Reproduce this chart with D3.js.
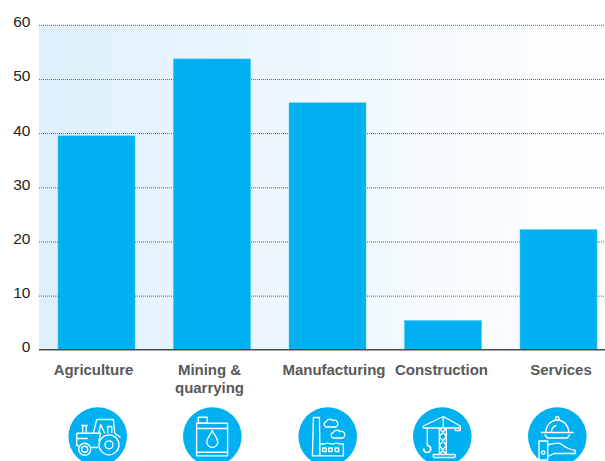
<!DOCTYPE html>
<html>
<head>
<meta charset="utf-8">
<script src="https://cdn.jsdelivr.net/npm/d3@7"></script>
<style>
  html, body { margin: 0; padding: 0; background: #fff; }
  svg { display: block; }
</style>
</head>
<body>
<div id="chart"></div>
<script>
const categories = ["Agriculture", "Mining & quarrying", "Manufacturing", "Construction", "Services"];
const categoryLines = [["Agriculture"], ["Mining &", "quarrying"], ["Manufacturing"], ["Construction"], ["Services"]];
const labelShift = [-3, -2.5, 6.5, -1.5, 2.5];
const values = [39.5, 53.7, 45.6, 5.4, 22.2];
const yTicks = [0, 10, 20, 30, 40, 50, 60];
const iconCentres = [97.7, 212.3, 327.7, 442.3, 557.3];

const width = 605, height = 461;
const blue = "#00b0f0";
const svg = d3.select("#chart").append("svg").attr("width", width).attr("height", height);

const x = d3.scaleBand().domain(categories).range([38.75, 616.25]).paddingInner(1 / 3).paddingOuter(1 / 6);
const y = d3.scaleLinear().domain([0, 60]).range([349.8, 24.8]);

// Plot background fades from pale blue to white
const grad = svg.append("defs").append("linearGradient").attr("id", "plotFade");
grad.append("stop").attr("offset", "0").attr("stop-color", "#def0fc");
grad.append("stop").attr("offset", "1").attr("stop-color", "#ffffff");
svg.append("rect").attr("x", 39).attr("y", y(60)).attr("width", width - 39).attr("height", y(0) - y(60)).attr("fill", "url(#plotFade)");

// Dotted gridlines and tick labels
const yAxis = d3.axisLeft(y).tickValues(yTicks).tickSize(0).tickPadding(9);
const axisG = svg.append("g").attr("transform", "translate(39,0)").call(yAxis);
axisG.select(".domain").remove();
axisG.selectAll("text")
  .attr("dy", "2px")
  .style("font", "15.5px 'Liberation Sans', sans-serif")
  .style("letter-spacing", "-0.3px")
  .attr("fill", "#231f20");
axisG.selectAll(".tick").filter((d) => d !== 0).append("line")
  .attr("x1", 0).attr("x2", width - 39)
  .attr("stroke", "#5f6062").attr("stroke-width", 1)
  .attr("stroke-dasharray", "1 1");

// Bars
svg.append("g").selectAll("rect").data(values).join("rect")
  .attr("x", (d, i) => x(categories[i]))
  .attr("y", (d) => y(d))
  .attr("width", x.bandwidth())
  .attr("height", (d) => y(0) - y(d))
  .attr("fill", blue)
  .attr("stroke", "#45c6f5")
  .attr("stroke-width", 0.5);

// Baseline
svg.append("line").attr("x1", 39).attr("x2", width).attr("y1", y(0)).attr("y2", y(0))
  .attr("stroke", "#4a4b4d").attr("stroke-width", 1.5);

// Category labels
const labels = svg.append("g").selectAll("text").data(categoryLines).join("text")
  .attr("text-anchor", "middle")
  .attr("fill", "#58595b")
  .style("font", "bold 15px 'Liberation Sans', sans-serif")
  .style("letter-spacing", "-0.03px");
labels.each(function (lines, i) {
  const cx = x(categories[i]) + x.bandwidth() / 2 + labelShift[i];
  d3.select(this).selectAll("tspan").data(lines).join("tspan")
    .attr("x", cx)
    .attr("y", (d, k) => 375 + k * 17.5)
    .text((d) => d);
});

// Sector icons: white line drawings on blue discs, drawn around each disc centre
const iconShapes = [
  // tractor
  g => {
    g.append("circle").attr("cx", 11.3).attr("cy", 8.3).attr("r", 10);
    g.append("circle").attr("cx", 11.3).attr("cy", 8.3).attr("r", 4);
    g.append("circle").attr("cx", -13).attr("cy", 12.7).attr("r", 6);
    g.append("circle").attr("cx", -13).attr("cy", 12.7).attr("r", 3);
    g.append("path").attr("d", "M-4.3,-3.3L-1,-17H15.7L17,-3.3 M-21,-3.3H3 M-21,-3.3V9H-19 M-7,11H0.5 M-15,-3.3V-11H-11.5V-3.3 M-16.5,-11H-10 M1,-3.3L3,-12L7,-3.3 M10,-3.3V-10H14V-3.3 M17,-3.3L23,1 M-21,2H-10 M3,-3.3L1,5");
  },
  // oil canister
  g => {
    g.append("rect").attr("x", -15.7).attr("y", -13.3).attr("width", 31).attr("height", 32.6);
    g.append("rect").attr("x", -14).attr("y", -19.3).attr("width", 9).attr("height", 6);
    g.append("path").attr("d", "M-15.7,-8H15.3 M-15.7,15.7H15.3 M0,-6C-2,-1 -5.5,1.5 -5.5,5.5A5.5,5.5 0 0 0 5.5,5.5C5.5,1.5 2,-1 0,-6Z");
  },
  // factory with chimney and clouds
  g => {
    g.append("path").attr("d", "M-15.3,19.3L-14.3,-19H-8.3L-7.7,19.3Z");
    g.append("path").attr("d", "M-7.7,19.3H15.7V7C13,9 10,5.5 7,7C4,9 1,5.5 -2,7C-4,8 -6,7.5 -7.7,7");
    [-5, 1, 7.5].forEach(wx => g.append("rect").attr("x", wx).attr("y", 11.5).attr("width", 3.5).attr("height", 3.5));
    g.append("path").attr("d", "M-2,-9.5A3,3 0 0 1 -1.5,-15A4,4 0 0 1 5,-16A3,3 0 0 1 8,-9.5Z");
    g.append("path").attr("d", "M5,1.5A3,3 0 0 1 5.5,-4A4,4 0 0 1 12,-5A3,3 0 0 1 15,1.5Z");
  },
  // tower crane
  g => {
    g.append("path").attr("d", "M-19,-8.5H18 M-19,-8.5V-10.5L1,-20L18,-10.5V-6H13V-8.5 M1,-20V-8.5 M-3,-8.5V18 M4,-8.5V18 M-3,-8.5L4,0L-3,9L4,18 M4,-8.5L-3,0L4,9L-3,18 M-9,20.5V18H13V20.5 M-9,21H13 M-15,-8.5V6");
    g.append("path").attr("d", "M-15,6V9A3.5,3.5 0 1 1 -18.5,12").attr("stroke-width", 1.7);
  },
  // cloche held on a hand
  g => {
    g.append("path").attr("d", "M-11.5,-3.5A11.5,13 0 0 1 11.5,-3.5 M-16.5,-4H16.5 M-12.5,-2L-10,1.5H10L12.5,-2 M-6,-5A7,8 0 0 1 -1,-11");
    g.append("circle").attr("cx", 0).attr("cy", -18).attr("r", 1.8);
    g.append("rect").attr("x", -18.3).attr("y", 4.5).attr("width", 8.7).attr("height", 19);
    g.append("circle").attr("cx", -14).attr("cy", 16).attr("r", 1.7);
    g.append("path").attr("d", "M-9.6,8.5C-4,7 0,6 3,7C6,9 8,12 18,14V17H-3L-9.6,20");
  }
];

const iconG = svg.append("g").selectAll("g").data(iconCentres).join("g")
  .attr("transform", (d) => `translate(${d},436.5)`);
iconG.append("circle").attr("r", 29.3).attr("fill", blue);
iconG.each(function (d, i) {
  const art = d3.select(this).append("g")
    .attr("fill", "none").attr("stroke", "#fff").attr("stroke-width", 1.35).attr("stroke-linejoin", "round");
  iconShapes[i](art);
});
</script>
</body>
</html>
